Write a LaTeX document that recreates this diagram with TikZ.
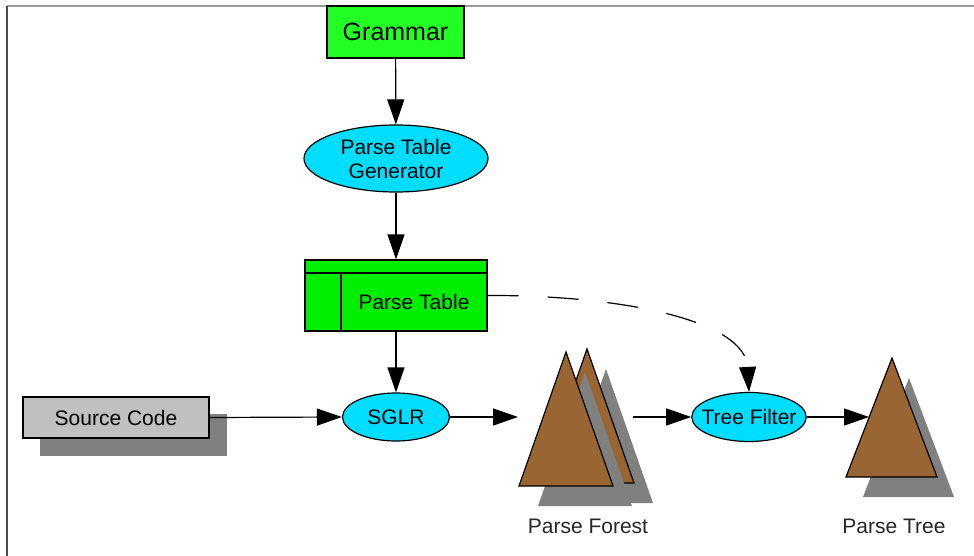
\documentclass[tikz,border=0pt]{standalone}
\usepackage{fontspec}
\setmainfont{Liberation Sans}
\usetikzlibrary{arrows.meta,shapes.geometric}
\definecolor{grammargreen}{HTML}{22FF22}
\definecolor{tablegreen}{HTML}{00EE00}
\definecolor{stepcyan}{HTML}{00DDFF}
\definecolor{treebrown}{HTML}{996633}
\definecolor{shadowgray}{HTML}{808080}
\definecolor{sourcegray}{HTML}{C0C0C0}
\tikzset{
  every node/.style={font=\fontsize{21}{24}\selectfont},
  box/.style={draw=black, line width=1.2pt, inner sep=0pt},
  proc/.style={ellipse, draw=black, line width=1.2pt, fill=stepcyan, inner sep=0pt, align=center},
  flow/.style={line width=1.2pt, -{Triangle[length=25pt,width=17pt]}},
  tree/.style={fill=treebrown, draw=black, line width=1.2pt, line join=miter},
  treeshadow/.style={fill=shadowgray}
}
\begin{document}
\begin{tikzpicture}[x=1pt,y=-1pt]
	\useasboundingbox (0,0) rectangle (974,556);
	\draw[draw=black!40, line width=1.2pt] (7,6) -- (974,6);
	\draw[draw=black!70, line width=1.2pt] (7,6) -- (7,556);
	% generator chain
	\node[box, fill=grammargreen, minimum width=137pt, minimum height=52pt, font=\fontsize{25}{28}\selectfont] (grammar) at (395.5,32) {Grammar};
	\node[proc, minimum width=184pt, minimum height=67pt] (ptgen) at (396,158.5) {Parse Table\\Generator};
	\node[box, fill=tablegreen, minimum width=182pt, minimum height=71pt] (ptable) at (396,295.5) {};
	\draw[draw=black, line width=1.2pt] (305,273) -- (487,273);
	\draw[draw=black, line width=1.2pt] (341,273) -- (341,331);
	\node (ptlabel) at (414,302) {Parse Table};
	% parser
	\fill[treeshadow] (40,414) rectangle (227,456);
	\node[box, fill=sourcegray, minimum width=186pt, minimum height=41pt] (source) at (116,417.5) {Source Code};
	\node[proc, minimum width=107pt, minimum height=48pt] (sglr) at (396,417) {SGLR};
	\node[proc, inner xsep=-7pt, minimum height=49pt] (filter) at (749,417) {Tree Filter};
	% forest
	\fill[treeshadow] (606,369) -- (559,503) -- (653,503) -- cycle;
	\filldraw[tree] (587,349) -- (540,483) -- (634,483) -- cycle;
	\fill[treeshadow] (585,372) -- (538,506) -- (632,506) -- cycle;
	\filldraw[tree] (566,352) -- (519,486) -- (613,486) -- cycle;
	\node[text=black!85] (forestlabel) at (588,526) {Parse Forest};
	% tree
	\fill[treeshadow] (909,378) -- (863,497) -- (954,497) -- cycle;
	\filldraw[tree] (892,358) -- (846,477) -- (937,477) -- cycle;
	\node[text=black!85] (treelabel) at (894,526) {Parse Tree};
	\coordinate (forestin) at (518,417);
	\coordinate (forestout) at (633,417);
	\coordinate (treein) at (869,417);
	% connectors
	\draw[flow] (grammar) -- (ptgen);
	\draw[flow] (ptgen) -- (ptable);
	\draw[flow] (ptable) -- (sglr);
	\draw[flow] (source.east) -- (sglr.west);
	\draw[flow] (sglr) -- (forestin);
	\draw[flow] (forestout) -- (filter);
	\draw[flow] (filter) -- (treein);
	\draw[flow, dash pattern=on 31pt off 29pt] (ptable.east) .. controls (620,295) and (745,320) .. (filter.north);
\end{tikzpicture}
\end{document}
